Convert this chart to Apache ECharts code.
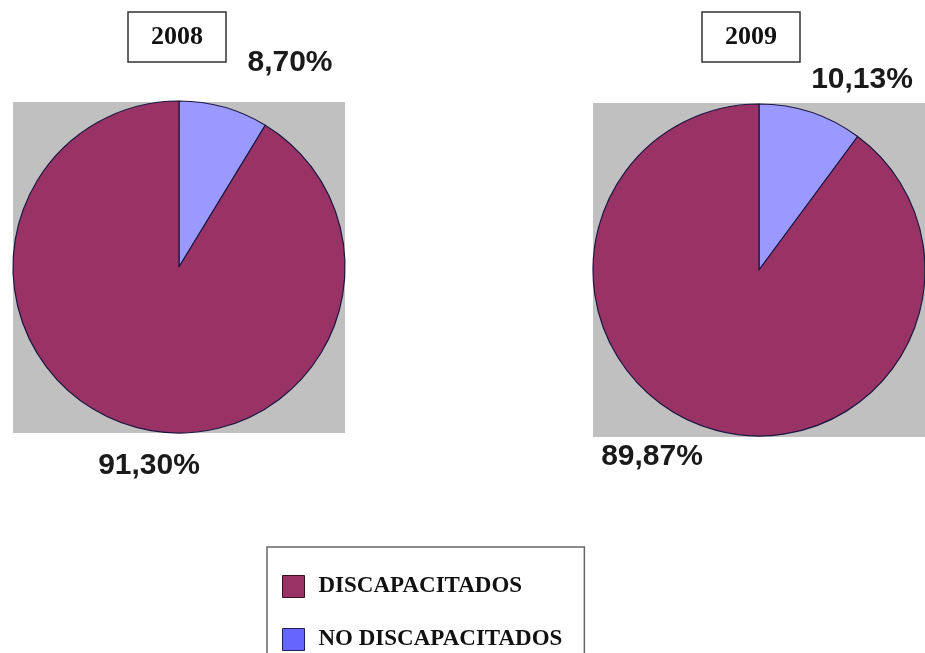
<!DOCTYPE html>
<html>
<head>
<meta charset="utf-8">
<script src="https://cdn.jsdelivr.net/npm/echarts@6/dist/echarts.min.js"></script>
<style>
  html, body { margin: 0; padding: 0; background: #fff; }
  #main { width: 925px; height: 653px; }
</style>
</head>
<body>
<div id="main"></div>
<script>
// datos
var categories = ['DISCAPACITADOS', 'NO DISCAPACITADOS'];
var years = ['2008', '2009'];
var discapacitados = [91.30, 89.87];
var noDiscapacitados = [8.70, 10.13];

var pieColors = { 'DISCAPACITADOS': '#993366', 'NO DISCAPACITADOS': '#9999FF' };
var centers = [[179, 267], [759, 270]];
// sitio de cada etiqueta: [serie][dato] -> dato 0 = NO DISCAPACITADOS, 1 = DISCAPACITADOS
var labelSpots = [
    [[290, 63], [149, 466]],
    [[862, 80], [652, 457]]
];

function fmt(v) {
    return v.toFixed(2).replace('.', ',') + '%';
}

var myChart = echarts.init(document.getElementById('main'));

var series = years.map(function (y, i) {
    return {
        name: y,
        type: 'pie',
        radius: 166,
        center: centers[i],
        startAngle: 90,
        clockwise: true,
        animation: false,
        data: [
            { name: categories[1], value: noDiscapacitados[i], itemStyle: { color: pieColors[categories[1]] } },
            { name: categories[0], value: discapacitados[i], itemStyle: { color: pieColors[categories[0]] } }
        ],
        itemStyle: { borderColor: '#1c1640', borderWidth: 1.2 },
        label: {
            show: true,
            position: 'outside',
            overflow: 'none',
            formatter: function (p) { return fmt(p.value); },
            fontFamily: 'Liberation Sans, Arial, sans-serif',
            fontWeight: 'bold',
            fontSize: 30,
            color: '#1a1a1a'
        },
        labelLine: { show: false },
        labelLayout: function (p) {
            var s = labelSpots[i][p.dataIndex];
            return { x: s[0], y: s[1], align: 'center', verticalAlign: 'middle' };
        },
        emphasis: { disabled: true }
    };
});

myChart.setOption({
    backgroundColor: '#FFFFFF',
    animation: false,
    title: years.map(function (y, i) {
        return {
            text: y,
            left: i === 0 ? 128 : 702,
            top: 12,
            padding: [12, 23, 12, 23],
            borderColor: '#333',
            borderWidth: 1.5,
            textStyle: {
                fontFamily: 'Liberation Serif, Times New Roman, serif',
                fontWeight: 'bold',
                fontSize: 26,
                lineHeight: 26,
                color: '#111'
            }
        };
    }),
    graphic: [
        { type: 'rect', z: -1, shape: { x: 13, y: 102, width: 332, height: 331 }, style: { fill: '#C0C0C0' } },
        { type: 'rect', z: -1, shape: { x: 593, y: 103, width: 334, height: 334 }, style: { fill: '#C0C0C0' } }
    ],
    legend: {
        orient: 'vertical',
        left: 267,
        top: 547,
        height: 200,
        padding: [28, 22, 40, 15],
        itemWidth: 22,
        itemHeight: 22,
        itemGap: 30,
        icon: 'rect',
        borderColor: '#666',
        borderWidth: 1.5,
        data: [
            { name: categories[0], itemStyle: { color: '#993366', borderColor: '#3a1020', borderWidth: 1 } },
            { name: categories[1], itemStyle: { color: '#6666FF', borderColor: '#20205a', borderWidth: 1 } }
        ],
        textStyle: {
            fontFamily: 'Liberation Serif, Times New Roman, serif',
            fontWeight: 'bold',
            fontSize: 23,
            color: '#111',
            padding: [0, 0, 0, 9]
        }
    },
    series: series
});
</script>
</body>
</html>
